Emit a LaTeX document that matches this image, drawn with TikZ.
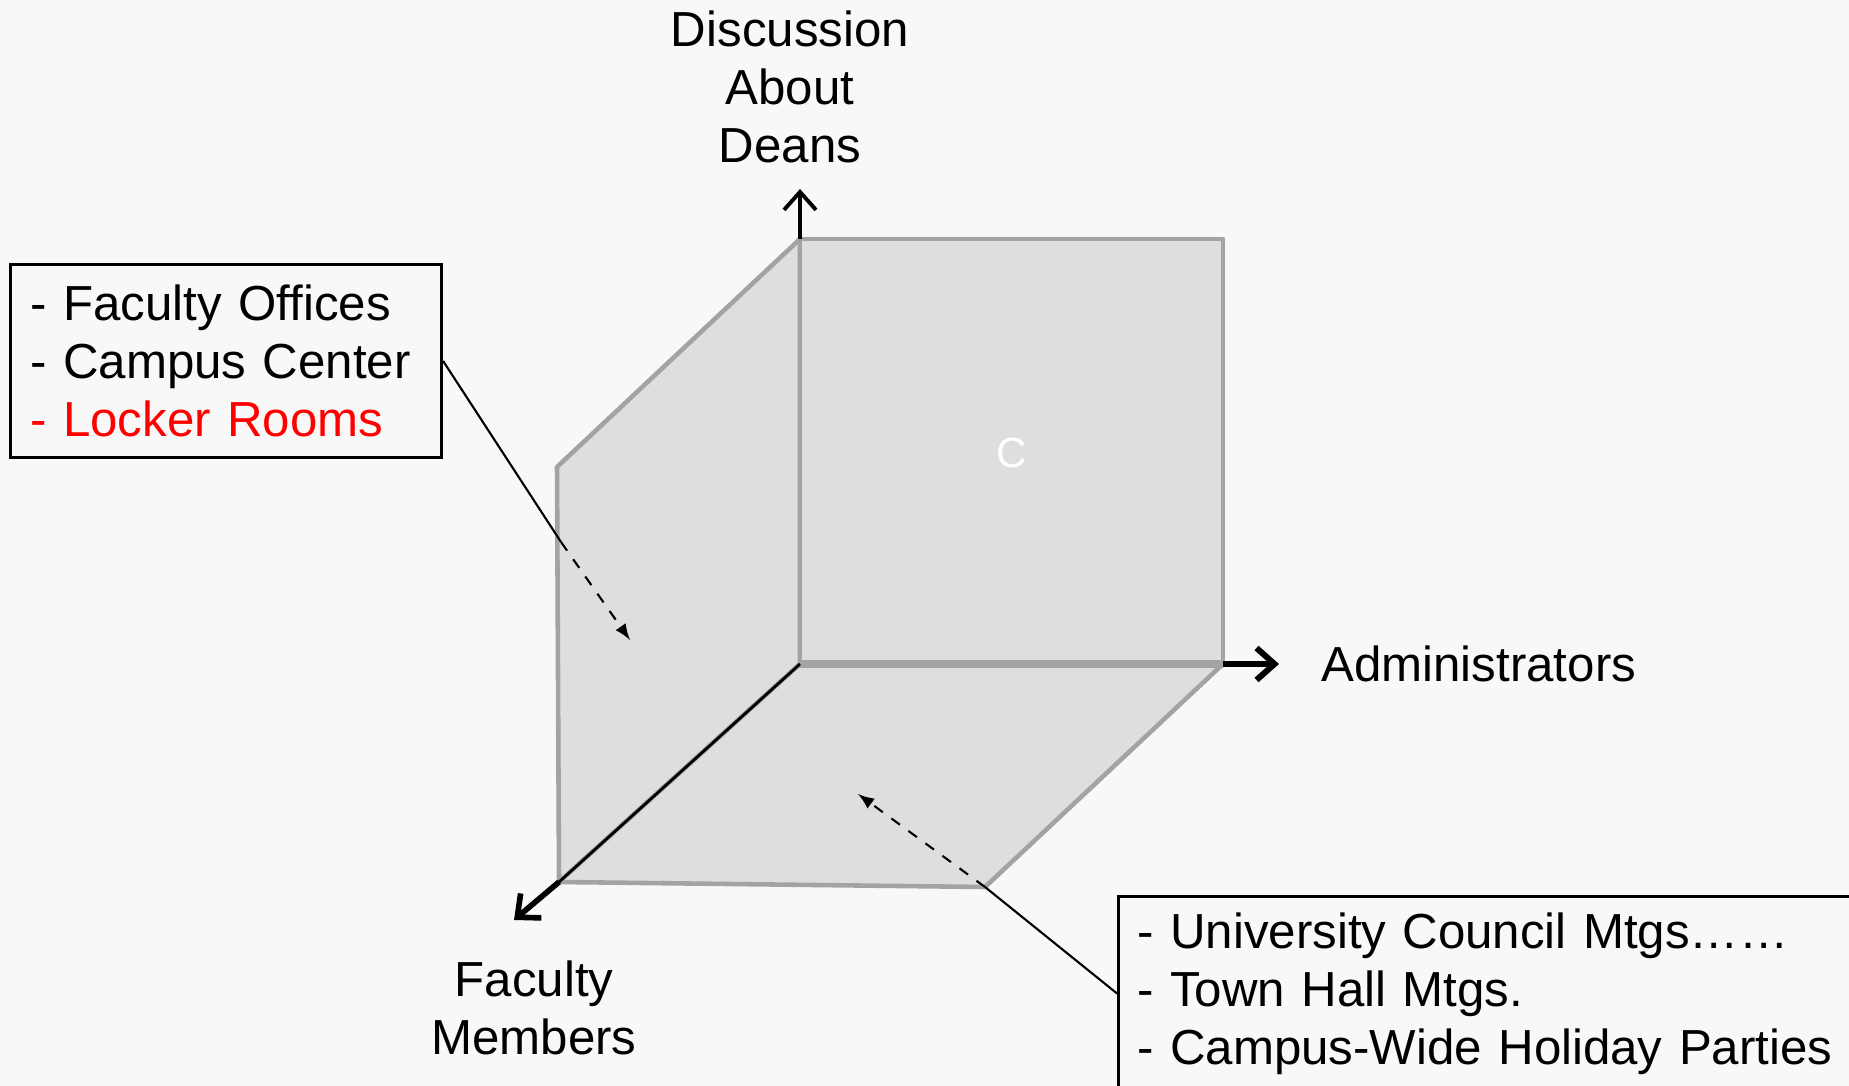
\documentclass[tikz,border=0pt]{standalone}
\usepackage{fontspec}
\setmainfont{Liberation Sans}
\usepackage{xcolor}
\usetikzlibrary{positioning,arrows.meta}

\definecolor{bgcol}{RGB}{248,248,248}
\definecolor{facefill}{RGB}{222,222,222}
\definecolor{faceline}{RGB}{163,163,163}
\newcommand\bigtext{\fontsize{14}{16.5}\selectfont}

\tikzset{
	face/.style={line width=1.3pt,faceline,fill=facefill,line join=round},
	axisarrow/.style={-{Straight Barb[length=0.18cm,width=0.32cm]}},
	callbox/.style={draw,line width=0.8pt,anchor=north west,inner ysep=0pt,align=left,font=\bigtext},
	callout/.style={line width=0.6pt}
}

\begin{document}
\begin{tikzpicture}[x=0.01cm,y=-0.01cm]
	
	% background
	\fill[bgcol] (0,0) rectangle (1849,1086);
	\clip (0,0) rectangle (1849,1086);
	
	% corners of the cube
	\coordinate (O) at (800,664);
	\coordinate (ztop) at (800,239);
	\coordinate (xz) at (1223,239);
	\coordinate (xr) at (1223,664);
	\coordinate (yz) at (557,467);
	\coordinate (yf) at (559,882);
	\coordinate (xy) at (985,887);
	
	% axis tips
	\coordinate (ztip) at (800,189);
	\coordinate (xtip) at (1279,664);
	\coordinate (ytip) at (514,920);
	
	% faces
	\draw[face] (ztop) -- (yz) -- (yf) -- (O) -- cycle;
	\draw[face] (O) -- (xr) -- (xy) -- (yf) -- cycle;
	\draw[face] (ztop) -- (xz) -- (xr) -- (O) -- cycle;
	\draw[line width=2.2pt,faceline] (O) -- (xr);
	
	\node[white,font=\fontsize{12}{14}\selectfont] (c) at (1012,453) {C};
	
	% axes
	\draw[axisarrow,line width=1.1pt] (ztop) -- (ztip);
	\draw[axisarrow,line width=1.7pt] (xr) -- (xtip);
	\draw[line width=0.8pt] (O) -- (yf);
	\draw[axisarrow,line width=1.6pt] (yf) -- (ytip);
	
	% axis labels
	\node[align=center,font=\bigtext] (deans) [above=0.14cm of ztip,xshift=-0.1cm] {Discussion\\About\\Deans};
	\node[font=\bigtext] (admins) [right=0.3cm of xtip] {Administrators};
	\node[align=center,font=\bigtext] (faculty) [below=0.28cm of ytip,xshift=0.2cm] {Faculty\\Members};
	
	% callout boxes
	\node[callbox,minimum height=1.93cm,text width=3.91cm,inner xsep=0.2cm] (places) at (9,263) {- Faculty Offices\\- Campus Center\\\textcolor{red}{- Locker Rooms}};
	\node[callbox,minimum height=1.94cm,text width=7.8cm,inner xsep=0.19cm] (events) at (1117,895) {- University Council Mtgs……\\- Town Hall Mtgs.\\- Campus-Wide Holiday Parties};
	
	% callout lines
	\coordinate (bend1) at (561,542);
	\coordinate (aim1) at (630,640);
	\coordinate (aim2) at (858,794);
	\draw[callout] (places.east) -- (bend1);
	\draw[callout,dashed,-latex] (bend1) -- (aim1);
	\draw[callout] (events.west) -- (xy);
	\draw[callout,dashed,-latex] (xy) -- (aim2);
	
\end{tikzpicture}
\end{document}
